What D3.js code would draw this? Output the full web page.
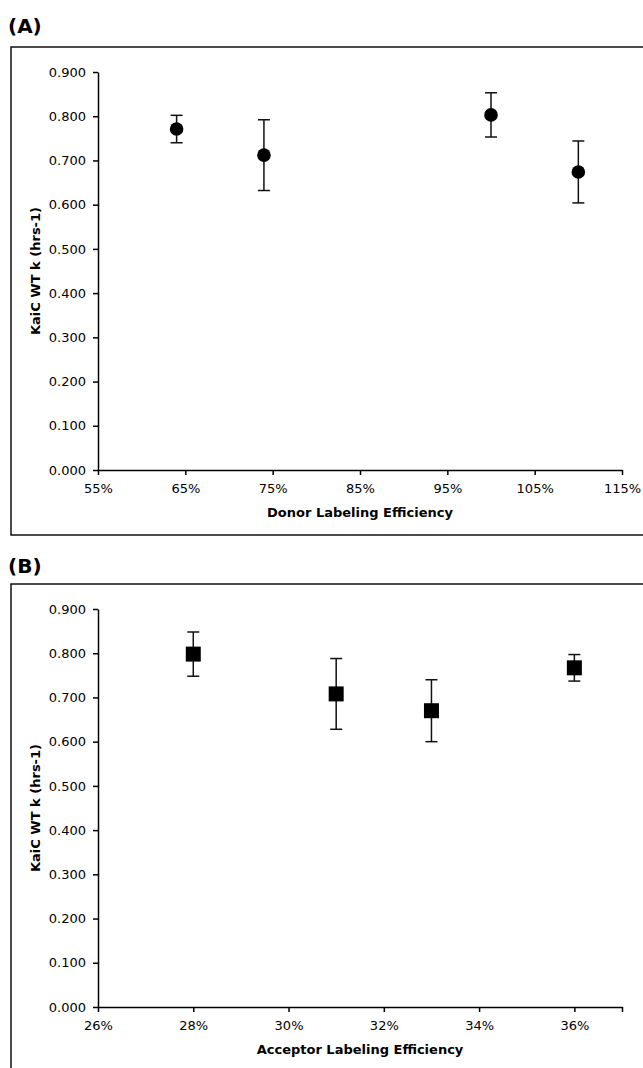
<!DOCTYPE html>
<html>
<head>
<meta charset="utf-8">
<script src="https://cdn.jsdelivr.net/npm/d3@7"></script>
<style>
  body { margin: 0; background: #fff; }
  svg { display: block; font-family: "DejaVu Sans", Verdana, sans-serif; }
</style>
</head>
<body>
<svg id="chart" width="643" height="1068"></svg>
<script>
const WIDTH = 643;
const HEIGHT = 1068;

// panel A: donor labeling efficiency
const donorEff = [0.64, 0.74, 1.00, 1.10];
const donorK = [0.771, 0.712, 0.803, 0.674];
const donorErr = [0.031, 0.080, 0.050, 0.070];
const donorTicks = [0.55, 0.65, 0.75, 0.85, 0.95, 1.05, 1.15];

// panel B: acceptor labeling efficiency
const acceptorEff = [0.28, 0.31, 0.33, 0.36];
const acceptorK = [0.798, 0.708, 0.670, 0.767];
const acceptorErr = [0.050, 0.080, 0.070, 0.030];
const acceptorTicks = [0.26, 0.28, 0.30, 0.32, 0.34, 0.36, 0.37];

const kTicks = [0, 0.1, 0.2, 0.3, 0.4, 0.5, 0.6, 0.7, 0.8, 0.9];
const yTitle = "KaiC WT k (hrs-1)";

const svg = d3.select("#chart");

function drawPanel(opts) {
  const { label, labelY, frameTop, frameBottom, yTop, yBottom, xDomain, xTicks, xTitle, xs, ys, errs, marker } = opts;
  const left = 98, right = 622;

  svg.append("text")
    .attr("x", 8).attr("y", labelY)
    .attr("font-size", 20).attr("font-weight", "bold")
    .text(label);

  svg.append("rect")
    .attr("x", 11).attr("y", frameTop)
    .attr("width", WIDTH + 20).attr("height", frameBottom - frameTop)
    .attr("fill", "none").attr("stroke", "#111").attr("stroke-width", 1.5);

  const x = d3.scaleLinear().domain(xDomain).range([left, right]);
  const y = d3.scaleLinear().domain([0, 0.9]).range([yBottom, yTop]);

  const lastTick = xTicks[xTicks.length - 1];
  const gx = svg.append("g")
    .attr("transform", `translate(0,${yBottom})`)
    .call(d3.axisBottom(x).tickValues(xTicks).tickSizeInner(5).tickSizeOuter(0).tickPadding(9)
      .tickFormat(d => (lastTick === 0.37 && d === 0.37) ? "" : d3.format(".0%")(d)));
  gx.selectAll("text").attr("font-size", 13).attr("fill", "#000").attr("font-family", "DejaVu Sans");

  const gy = svg.append("g")
    .attr("transform", `translate(${left},0)`)
    .call(d3.axisLeft(y).tickValues(kTicks).tickSizeInner(5).tickSizeOuter(0).tickPadding(7)
      .tickFormat(d3.format(".3f")));
  gy.selectAll("text").attr("font-size", 13).attr("fill", "#000").attr("font-family", "DejaVu Sans");

  svg.selectAll(".domain, .tick line").attr("stroke", "#000").attr("stroke-width", 1.5);

  svg.append("text")
    .attr("x", (left + right) / 2).attr("y", yBottom + 47)
    .attr("text-anchor", "middle")
    .attr("font-size", 13).attr("font-weight", "bold")
    .text(xTitle);

  svg.append("text")
    .attr("transform", `translate(40,${(yTop + yBottom) / 2}) rotate(-90)`)
    .attr("text-anchor", "middle")
    .attr("font-size", 13).attr("font-weight", "bold")
    .text(yTitle);

  const pts = xs.map((v, i) => ({ x: v, k: ys[i], e: errs[i] }));
  const g = svg.append("g");
  const cap = 6;

  g.selectAll(".err").data(pts).join("line")
    .attr("x1", d => x(d.x)).attr("x2", d => x(d.x))
    .attr("y1", d => y(d.k + d.e)).attr("y2", d => y(d.k - d.e))
    .attr("stroke", "#111").attr("stroke-width", 1.5);
  g.selectAll(".capTop").data(pts).join("line")
    .attr("x1", d => x(d.x) - cap).attr("x2", d => x(d.x) + cap)
    .attr("y1", d => y(d.k + d.e)).attr("y2", d => y(d.k + d.e))
    .attr("stroke", "#111").attr("stroke-width", 1.5);
  g.selectAll(".capBot").data(pts).join("line")
    .attr("x1", d => x(d.x) - cap).attr("x2", d => x(d.x) + cap)
    .attr("y1", d => y(d.k - d.e)).attr("y2", d => y(d.k - d.e))
    .attr("stroke", "#111").attr("stroke-width", 1.5);

  if (marker === "circle") {
    g.selectAll("circle").data(pts).join("circle")
      .attr("cx", d => x(d.x)).attr("cy", d => y(d.k)).attr("r", 6.8)
      .attr("fill", "#000");
  } else {
    const s = 15;
    g.selectAll("rect").data(pts).join("rect")
      .attr("x", d => x(d.x) - s / 2).attr("y", d => y(d.k) - s / 2)
      .attr("width", s).attr("height", s)
      .attr("fill", "#000");
  }
}

drawPanel({
  label: "(A)", labelY: 33, frameTop: 47, frameBottom: 535,
  yTop: 72, yBottom: 470,
  xDomain: [0.55, 1.15], xTicks: donorTicks,
  xTitle: "Donor Labeling Efficiency",
  xs: donorEff, ys: donorK, errs: donorErr, marker: "circle"
});

drawPanel({
  label: "(B)", labelY: 573, frameTop: 584, frameBottom: HEIGHT + 20,
  yTop: 609, yBottom: 1007,
  xDomain: [0.26, 0.37], xTicks: acceptorTicks,
  xTitle: "Acceptor Labeling Efficiency",
  xs: acceptorEff, ys: acceptorK, errs: acceptorErr, marker: "square"
});
</script>
</body>
</html>
